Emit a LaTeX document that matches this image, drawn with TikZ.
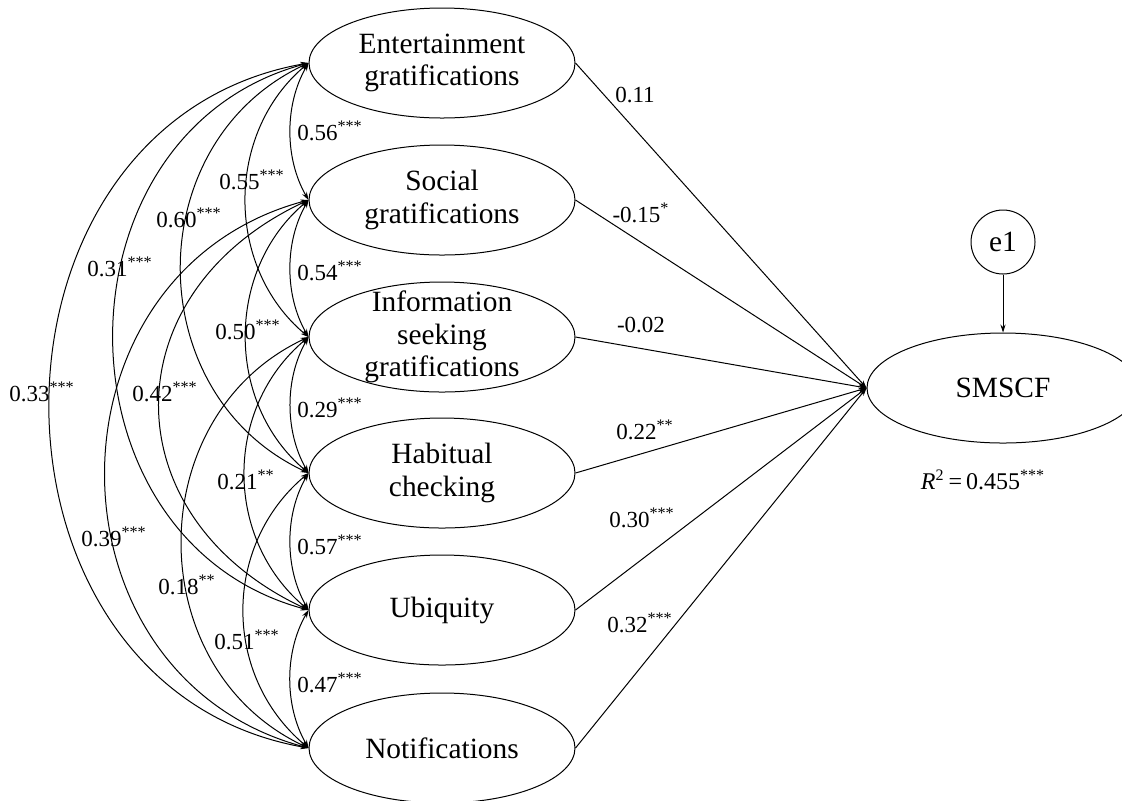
\documentclass[tikz,border=0pt]{standalone}
\usepackage{fontspec}
\setmainfont{Liberation Serif}
\usetikzlibrary{shapes.geometric,arrows.meta}
\newcommand{\sig}[1]{\textsuperscript{#1}}
\tikzset{
  latent/.style={draw, ellipse, inner sep=-8pt, minimum width=133pt, minimum height=55pt,
    align=center, font=\fontsize{14.7}{16.2}\selectfont},
  coef/.style={inner sep=0pt, font=\fontsize{11.5}{13}\selectfont},
  effect/.style={-{Stealth[length=4pt,width=2.6pt]}},
  cov/.style={{Stealth[length=4pt,width=2.6pt]}-{Stealth[length=4pt,width=2.6pt]}},
}
\begin{document}
\begin{tikzpicture}[x=0.5pt, y=-0.5pt, line width=0.5pt]
    \useasboundingbox (0,0) rectangle (1122,800);
    % predictors
    \node[latent] (ent) at (442,63) {Entertainment\\gratifications};
    \node[latent] (soc) at (442,200) {Social\\gratifications};
    \node[latent] (inf) at (442,337) {Information\\seeking\\gratifications};
    \node[latent] (hab) at (442,473) {Habitual\\checking};
    \node[latent] (ubi) at (442,610) {Ubiquity};
    \node[latent] (ntf) at (442,748) {Notifications};
    % outcome
    \node[latent, minimum width=136pt] (smscf) at (1003,388) {SMSCF};
    \node[draw, circle, minimum size=32pt, inner sep=0pt, font=\fontsize{14.7}{16}\selectfont] (e1) at (1003,242) {e1};
    \draw[effect] (e1) -- (smscf);
    \node[coef, font=\fontsize{12}{14}\selectfont] (r2) at (983,480) {\textit{R}\sig{2}\,=\,0.455\sig{***}};
    % paths
    \draw[effect] (ent.east) -- (smscf.west);
    \draw[effect] (soc.east) -- (smscf.west);
    \draw[effect] (inf.east) -- (smscf.west);
    \draw[effect] (hab.east) -- (smscf.west);
    \draw[effect] (ubi.east) -- (smscf.west);
    \draw[effect] (ntf.east) -- (smscf.west);
    \node[coef] (p-ent) at (635,95) {0.11};
    \node[coef] (p-soc) at (641,213) {-0.15\sig{*}};
    \node[coef] (p-inf) at (641,325) {-0.02};
    \node[coef] (p-hab) at (645,430) {0.22\sig{**}};
    \node[coef] (p-ubi) at (642,518) {0.30\sig{***}};
    \node[coef] (p-ntf) at (640,623) {0.32\sig{***}};
    % covariances, one step apart
    \draw[cov] (ent.west) to[bend right=30, looseness=0.9] (soc.west);
    \draw[cov] (soc.west) to[bend right=30, looseness=0.9] (inf.west);
    \draw[cov] (inf.west) to[bend right=30, looseness=0.9] (hab.west);
    \draw[cov] (hab.west) to[bend right=30, looseness=0.9] (ubi.west);
    \draw[cov] (ubi.west) to[bend right=30, looseness=0.9] (ntf.west);
    % two steps
    \draw[cov] (ent.west) to[bend right=50, looseness=1.02] (inf.west);
    \draw[cov] (soc.west) to[bend right=50, looseness=1.02] (hab.west);
    \draw[cov] (inf.west) to[bend right=50, looseness=1.04] (ubi.west);
    \draw[cov] (hab.west) to[bend right=50, looseness=1.05] (ntf.west);
    % three steps
    \draw[cov] (ent.west) to[bend right=65, looseness=1.17] (hab.west);
    \draw[cov] (soc.west) to[bend right=65, looseness=1.37] (ubi.west);
    \draw[cov] (inf.west) to[bend right=65, looseness=1.16] (ntf.west);
    % four and five steps
    \draw[cov] (ent.west) to[bend right=75, looseness=1.26] (ubi.west);
    \draw[cov] (soc.west) to[bend right=75, looseness=1.31] (ntf.west);
    \draw[cov] (ent.west) to[bend right=80, looseness=1.31] (ntf.west);
    % covariance labels
    \node[coef] (k-es) at (330,131) {0.56\sig{***}};
    \node[coef] (k-si) at (330,271) {0.54\sig{***}};
    \node[coef] (k-ih) at (330,408) {0.29\sig{***}};
    \node[coef] (k-hu) at (330,545) {0.57\sig{***}};
    \node[coef] (k-un) at (330,683) {0.47\sig{***}};
    \node[coef] (k-ei) at (252,180) {0.55\sig{***}};
    \node[coef] (k-sh) at (248,330) {0.50\sig{***}};
    \node[coef] (k-iu) at (246,480) {0.21\sig{**}};
    \node[coef] (k-hn) at (247,640) {0.51\sig{***}};
    \node[coef] (k-eh) at (189,218) {0.60\sig{***}};
    \node[coef] (k-su) at (165,392) {0.42\sig{***}};
    \node[coef] (k-in) at (187,585) {0.18\sig{**}};
    \node[coef] (k-eu) at (120,267) {0.31\sig{***}};
    \node[coef] (k-sn) at (114,537) {0.39\sig{***}};
    \node[coef] (k-en) at (42,392) {0.33\sig{***}};
\end{tikzpicture}
\end{document}
